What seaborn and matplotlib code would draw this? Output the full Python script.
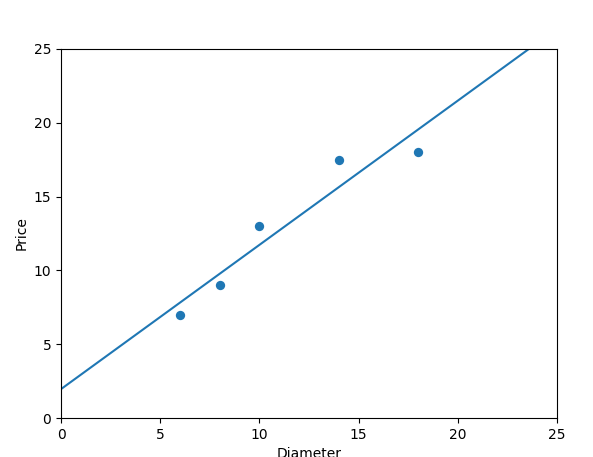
import numpy as np
import pandas as pd
import seaborn as sns
import matplotlib.pyplot as plt

# pizza data
diameter = [6, 8, 10, 14, 18]
price = [7, 9, 13, 17.5, 18]

# fitted line
line_x = [0, 25]
line_y = [1.97, 26.37]

df = pd.DataFrame({'Diameter': diameter, 'Price': price})
line_df = pd.DataFrame({'Diameter': line_x, 'Price': line_y})

fig, ax = plt.subplots(figsize=(5.93, 4.57), dpi=100)
fig.subplots_adjust(left=0.103, right=0.939, top=0.893, bottom=0.085)

sns.scatterplot(data=df, x='Diameter', y='Price', color='C0', s=45, linewidth=0, ax=ax)
sns.lineplot(data=line_df, x='Diameter', y='Price', color='C0', linewidth=1.5, ax=ax)

ax.set_xlim(0, 25)
ax.set_ylim(0, 25)
ax.set_xlabel('Diameter')
ax.set_ylabel('Price')

plt.savefig('out.png', dpi=100)
